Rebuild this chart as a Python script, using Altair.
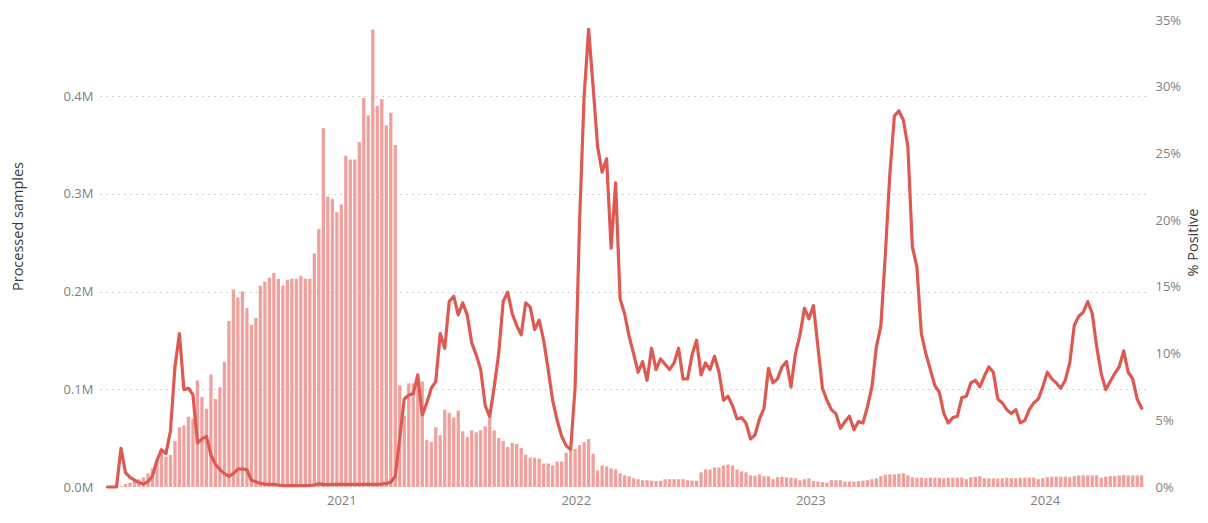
import altair as alt
import pandas as pd

# ---------------- data (weekly) ----------------
first_week = "2020-01-03"

samples_m = [
    0, 0, 0,
    0.001, 0.003, 0.0045, 0.006, 0.008, 0.010, 0.014, 0.019, 0.028, 0.038,
    0.031, 0.033, 0.047, 0.061, 0.063, 0.072, 0.070, 0.109, 0.092, 0.080,
    0.115, 0.090, 0.102, 0.128, 0.170, 0.202, 0.194, 0.200, 0.183, 0.166,
    0.173, 0.206, 0.210, 0.214, 0.219, 0.213,
    0.206, 0.212, 0.213, 0.213, 0.216, 0.213, 0.213, 0.239, 0.264, 0.367,
    0.297, 0.295, 0.281, 0.289, 0.339, 0.335, 0.335, 0.353, 0.398, 0.380,
    0.468, 0.390, 0.397, 0.370, 0.383, 0.350, 0.104, 0.073, 0.106, 0.106,
    0.107, 0.108, 0.048, 0.046, 0.061, 0.053, 0.079, 0.076, 0.071,
    0.078, 0.057, 0.051, 0.058, 0.056, 0.058, 0.062, 0.075, 0.058, 0.050,
    0.047, 0.041, 0.045, 0.044, 0.040, 0.033, 0.030, 0.030, 0.029, 0.024,
    0.024, 0.022, 0.026, 0.026, 0.035, 0.037, 0.039, 0.043, 0.046, 0.049,
    0.034, 0.017, 0.022, 0.021, 0.019, 0.018, 0.014,
    0.012, 0.011, 0.009, 0.008, 0.007, 0.007, 0.0065, 0.006, 0.0065, 0.008,
    0.008, 0.008, 0.008, 0.008, 0.007, 0.0065, 0.0065, 0.015, 0.018, 0.018,
    0.020, 0.020, 0.022, 0.023, 0.022, 0.018, 0.016, 0.015, 0.012, 0.0115,
    0.013, 0.011, 0.011, 0.008, 0.010, 0.0105, 0.010, 0.0095, 0.009,
    0.007, 0.008, 0.009, 0.006, 0.0055, 0.005, 0.0045, 0.007, 0.007, 0.007,
    0.0055, 0.0055, 0.0055, 0.006, 0.0065, 0.007, 0.008, 0.009, 0.011, 0.0125,
    0.013, 0.013, 0.0135, 0.014, 0.012, 0.010,
    0.0095, 0.0095, 0.009, 0.0095, 0.0095, 0.0095, 0.009, 0.0095, 0.0095,
    0.0095, 0.0095, 0.008,
    0.010, 0.0105, 0.011, 0.0089, 0.0089, 0.0089, 0.0089, 0.0089, 0.0095, 0.009,
    0.009, 0.0095, 0.0095, 0.0095, 0.0095, 0.008, 0.009, 0.010, 0.0106, 0.0106,
    0.0106, 0.0106, 0.010, 0.0112, 0.0119, 0.0119, 0.0119, 0.0119, 0.012, 0.0095,
    0.0106, 0.0112, 0.0112, 0.0119, 0.012, 0.0119, 0.0119, 0.0119, 0.0119,
]

positive_pct = [
    0, 0, 0, 2.9, 1.07, 0.72, 0.52, 0.32, 0.22, 0.4,
    0.82, 2.0, 2.8, 2.5, 4.2, 9.0, 11.5, 7.3, 7.4, 6.9,
    3.3, 3.6, 3.8, 2.4, 1.7, 1.3, 1.0, 0.8, 1.0, 1.35,
    1.35, 1.3, 0.5, 0.4, 0.27, 0.22, 0.2, 0.2, 0.15,
    0.1, 0.1, 0.1, 0.1, 0.1, 0.1, 0.12, 0.15, 0.25,
    0.18, 0.18, 0.2, 0.2, 0.2, 0.2, 0.2, 0.2, 0.2, 0.2,
    0.2, 0.2, 0.2, 0.22, 0.27,
    0.35, 0.8, 3.7, 6.6, 6.9, 7.0, 8.4, 5.4, 6.3, 7.4,
    7.9, 11.5, 10.4, 13.9, 14.3,
    12.9, 13.8, 12.9, 10.8, 9.9, 8.8, 6.1, 5.3, 7.5, 10.0,
    13.9, 14.6, 13.0, 12.1, 11.4, 13.8, 13.5, 11.8, 12.5, 11.0,
    8.8, 6.5, 5.0, 3.8, 3.1, 2.8, 7.5, 20.0, 29.3, 34.3,
    30.0, 25.5, 23.6, 24.6, 17.9, 22.8, 14.1, 13.0, 11.3,
    10.0, 8.6, 9.4, 8.0, 10.4, 8.8, 9.6, 9.2, 8.8, 9.3,
    10.4, 8.1, 8.1, 9.9, 11.0, 8.4, 9.3, 8.8, 9.8, 8.6,
    6.5, 6.8, 6.1, 5.1, 5.2, 4.8, 3.6, 3.9, 5.1, 5.9,
    8.9, 7.8, 8.1, 9.0, 9.4, 7.5, 10.0, 11.4, 13.4,
    12.6, 13.6, 10.5, 7.4, 6.5, 5.8, 5.5, 4.4, 4.9, 5.3,
    4.3, 4.9, 4.8, 6.0, 7.5, 10.5, 12.1, 17.5, 23.5, 27.8,
    28.2, 27.5, 25.5, 18.0, 16.5, 11.5, 10.0, 8.8, 7.6, 7.1,
    5.5, 4.8, 5.2, 5.3, 6.7, 6.8, 7.8, 8.0, 7.5,
    8.3, 9.0, 8.6, 6.6, 6.3, 5.8, 5.5, 5.8, 4.8, 5.0,
    5.8, 6.3, 6.6, 7.5, 8.6, 8.1, 7.8, 7.4, 8.0, 9.3,
    12.1, 12.8, 13.1, 13.9, 13.0, 10.5, 8.5, 7.3, 7.9, 8.5,
    9.0, 10.2, 8.6, 8.1, 6.6, 5.9,
]

year_ticks = ["2021-01-01", "2022-01-01", "2023-01-01", "2024-01-01"]
left_ticks = [0, 0.1, 0.2, 0.3, 0.4]
right_ticks = [0, 5, 10, 15, 20, 25, 30, 35]

n = min(len(samples_m), len(positive_pct))
dates = pd.date_range(first_week, periods=n, freq="7D")
df = pd.DataFrame({
    "date": dates.strftime("%Y-%m-%d"),
    "samples": samples_m[:n],
    "pct": positive_pct[:n],
    "bar_start": (dates - pd.Timedelta(hours=62)).strftime("%Y-%m-%dT%H:%M:%SZ"),
    "bar_end": (dates + pd.Timedelta(hours=62)).strftime("%Y-%m-%dT%H:%M:%SZ"),
})

def ms(ts):
    return int(pd.Timestamp(ts).value // 10**6)

x_domain = [ms(dates[0] - pd.Timedelta(days=11.68)), ms(dates[-1] + pd.Timedelta(days=6.7))]
x_scale = alt.Scale(type="utc", domain=x_domain, nice=False, padding=0)
x_axis = alt.Axis(
    values=[ms(t) for t in year_ticks],
    labelExpr="utcFormat(datum.value, '%Y')",
    title=None, grid=False, ticks=False, domain=False,
    labelPadding=7, labelBaseline="top",
)

FONT = "Open Sans"
LABEL = "#7f7f7f"
TITLE = "#3a3a3a"
BAR = "#EFA29D"
LINE = "#DD5A52"

bars = alt.Chart(df).mark_bar(color=BAR).encode(
    x=alt.X("bar_start:T", scale=x_scale, axis=x_axis),
    x2="bar_end:T",
    y=alt.Y(
        "samples:Q",
        scale=alt.Scale(domain=[0, 0.4778], nice=False, zero=True, padding=0),
        axis=alt.Axis(
            values=left_ticks,
            labelExpr="format(datum.value, '.1f') + 'M'",
            title="Processed samples",
            grid=True, gridDash=[1.5, 4.5], gridColor="#c4c4c4", gridWidth=1.2,
            gridOpacity={"condition": {"test": "datum.value === 0", "value": 0}, "value": 1},
            ticks=False, domain=False, labelPadding=7,
            titleAngle=270, titleX=-82, titleY=206,
            titleAlign="center", titleBaseline="middle",
        ),
    ),
    y2=alt.datum(0),
)

line = alt.Chart(df).mark_line(
    color=LINE, strokeWidth=3.2, strokeJoin="round", strokeCap="round"
).encode(
    x=alt.X("date:T", scale=x_scale, axis=x_axis),
    y=alt.Y(
        "pct:Q",
        scale=alt.Scale(domain=[0, 35], nice=False, padding=0),
        axis=alt.Axis(
            orient="right",
            values=right_ticks,
            labelExpr="datum.value + '%'",
            title="% Positive",
            grid=False, ticks=False, domain=False, labelPadding=9,
            titleAngle=270, titleX=47, titleY=222,
            titleAlign="center", titleBaseline="middle",
        ),
    ),
)

chart = (
    alt.layer(bars, line)
    .resolve_scale(y="independent")
    .properties(
        width=1046, height=467,
        autosize=alt.AutoSizeParams(type="none"),
        padding={"left": 92, "top": 12, "right": 54, "bottom": 24},
    )
    .configure(font=FONT)
    .configure_view(stroke=None)
    .configure_axis(
        labelFont=FONT, labelFontSize=13, labelColor=LABEL,
        titleFont=FONT, titleFontSize=14.5, titleFontWeight="normal", titleColor=TITLE,
    )
)

chart.save("out.html", embed_options={"renderer": "svg", "actions": False})
